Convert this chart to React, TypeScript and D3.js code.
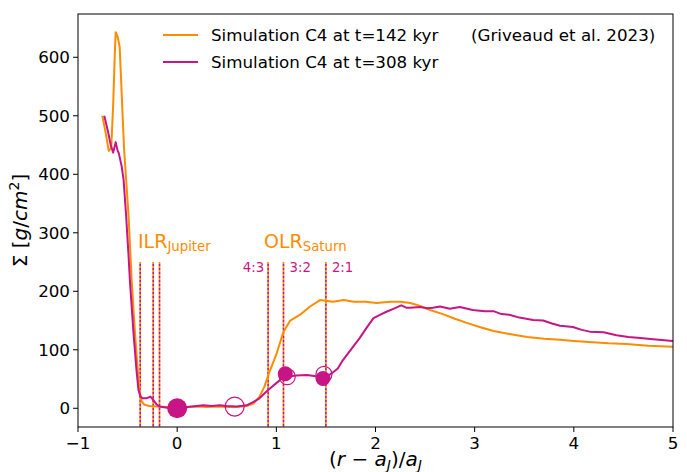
import React from "react";
import * as d3 from "d3";

const ORANGE = "#ff8c00";
const MAGENTA = "#c71585";

// Simulation C4 at t=142 kyr
const orangeX = [-0.755,-0.72,-0.69,-0.665,-0.645,-0.63,-0.62,-0.6,-0.58,-0.565,-0.55,-0.535,-0.51,-0.49,-0.457,-0.425,-0.4,-0.38,-0.36,-0.33,-0.28,-0.2,-0.1,0,0.1,0.2,0.3,0.4,0.5,0.6,0.7,0.77,0.83,0.88,0.93,1.0,1.07,1.14,1.24,1.34,1.44,1.5,1.57,1.68,1.78,1.9,2.01,2.15,2.25,2.35,2.45,2.55,2.68,2.8,2.92,3.05,3.19,3.35,3.53,3.7,3.86,4.0,4.19,4.35,4.53,4.75,5.0];
const orangeY = [500,470,440,445,520,600,643,635,618,560,500,442,380,328,214,128,71,31,12,6,4,3,2,1,2,3,2,3,2,2,4,8,20,37,62,92,130,150,160,174,185,184,182,185,182,182,180,182,182,180,175,168,161,153,146,139,132,127,122,119,117,115,113,111,110,107,105];

// Simulation C4 at t=308 kyr
const magentaX = [-0.735,-0.7,-0.67,-0.645,-0.62,-0.6,-0.59,-0.56,-0.54,-0.515,-0.49,-0.475,-0.44,-0.41,-0.39,-0.37,-0.35,-0.31,-0.27,-0.24,-0.21,-0.18,-0.1,0,0.1,0.2,0.26,0.35,0.43,0.5,0.6,0.7,0.77,0.83,0.89,0.95,1.0,1.05,1.1,1.2,1.31,1.38,1.44,1.5,1.56,1.62,1.67,1.75,1.84,1.92,1.98,2.05,2.11,2.18,2.26,2.31,2.35,2.45,2.52,2.58,2.65,2.75,2.85,2.98,3.1,3.19,3.27,3.35,3.45,3.59,3.69,3.78,3.86,3.99,4.08,4.16,4.3,4.43,4.55,4.67,4.8,5.0];
const magentaY = [500,475,450,437,455,440,437,414,390,330,260,214,128,65,31,20,17,17,20,14,7,3,1,0,2,4,5,4,5,4,3,5,11,17,27,36,43,50,54,56,57,55,53,53,60,68,82,100,120,140,154,160,165,170,176,172,172,173,171,172,174,170,173,168,166,166,161,160,155,151,150,145,141,139,134,131,130,125,122,120,118,115];

// resonance positions
const ilrX = [-0.373, -0.242, -0.178];
const olrX = [0.917, 1.072, 1.5];
const olrLabels = ["4:3", "3:2", "2:1"];

// planet markers
const filledX = [0, 1.09, 1.47];
const filledY = [0, 59, 51];
const filledR = [10, 7.5, 7.5];
const openX = [0.58, 1.11, 1.48];
const openY = [3, 54, 58];
const openR = [9.5, 8, 8];

const xTicks = [-1, 0, 1, 2, 3, 4, 5];
const yTicks = [0, 100, 200, 300, 400, 500, 600];

const W = 687, H = 472;
const L = 78, R = 673, T = 14, B = 427;
const FONT = "DejaVu Sans";

export default function App() {
  const x = d3.scaleLinear().domain([-1, 5]).range([L, R]);
  const y = d3.scaleLinear().domain([-32, 674]).range([B, T]);
  const line = d3.line<[number, number]>().x(d => x(d[0])).y(d => y(d[1]));
  const oData = orangeX.map((v, i) => [v, orangeY[i]] as [number, number]);
  const mData = magentaX.map((v, i) => [v, magentaY[i]] as [number, number]);
  const vlines = [...ilrX, ...olrX];

  return (
    <svg width={W} height={H} style={{ position: "absolute", left: 0, top: 0, background: "#fff" }} fontFamily={FONT}>
      <defs>
        <clipPath id="plotclip"><rect x={L} y={T} width={R - L} height={B - T} /></clipPath>
      </defs>
      <rect x={0} y={0} width={W} height={H} fill="#fff" />
      <g clipPath="url(#plotclip)">
        {vlines.map((v, i) => (
          <g key={i}>
            <line x1={x(v)} x2={x(v)} y1={y(250)} y2={B} stroke={ORANGE} strokeWidth={1.7} strokeDasharray="2 2" />
            <line x1={x(v)} x2={x(v)} y1={y(250)} y2={B} stroke={MAGENTA} strokeWidth={1.7} strokeDasharray="2 2" strokeDashoffset={2} />
          </g>
        ))}
        <path d={line(oData) || ""} fill="none" stroke={ORANGE} strokeWidth={2} strokeLinejoin="round" />
        <path d={line(mData) || ""} fill="none" stroke={MAGENTA} strokeWidth={2} strokeLinejoin="round" />
        {filledX.map((v, i) => (
          <circle key={"f" + i} cx={x(v)} cy={y(filledY[i])} r={filledR[i]} fill={MAGENTA} />
        ))}
        {openX.map((v, i) => (
          <circle key={"o" + i} cx={x(v)} cy={y(openY[i])} r={openR[i]} fill="none" stroke={MAGENTA} strokeWidth={1.2} />
        ))}
      </g>
      {/* annotations */}
      <text x={138} y={248} fill={ORANGE} fontSize={19}>ILR<tspan fontSize={13.3} dy={3}>Jupiter</tspan></text>
      <text x={264} y={248} fill={ORANGE} fontSize={19}>OLR<tspan fontSize={13.3} dy={3}>Saturn</tspan></text>
      {olrX.map((v, i) => (
        <text key={i} x={i === 0 ? x(v) - 4 : x(v) + 6} y={272} fill={MAGENTA} fontSize={13.3} textAnchor={i === 0 ? "end" : "start"}>{olrLabels[i]}</text>
      ))}
      {/* frame */}
      <rect x={L} y={T} width={R - L} height={B - T} fill="none" stroke="#000" strokeWidth={1} />
      {/* x axis */}
      {xTicks.map(t => (
        <g key={t}>
          <line x1={x(t)} x2={x(t)} y1={B} y2={B + 5} stroke="#000" />
          <text x={x(t)} y={B + 22} textAnchor="middle" fontSize={16.7}>{t < 0 ? "\u2212" + Math.abs(t) : t}</text>
        </g>
      ))}
      {yTicks.map(t => (
        <g key={t}>
          <line x1={L - 5} x2={L} y1={y(t)} y2={y(t)} stroke="#000" />
          <text x={L - 8} y={y(t) + 6} textAnchor="end" fontSize={16.7}>{t}</text>
        </g>
      ))}
      {/* axis labels */}
      <text x={(L + R) / 2} y={466} textAnchor="middle" fontSize={20}>
        (<tspan fontStyle="italic">r</tspan> − <tspan fontStyle="italic">a</tspan><tspan fontStyle="italic" fontSize={14} dy={4}>J</tspan><tspan dy={-4}>)/</tspan><tspan fontStyle="italic">a</tspan><tspan fontStyle="italic" fontSize={14} dy={4}>J</tspan>
      </text>
      <text transform={`translate(27, ${(T + B) / 2}) rotate(-90)`} textAnchor="middle" fontSize={20}>
        Σ [<tspan fontStyle="italic">g</tspan>/<tspan fontStyle="italic">cm</tspan><tspan fontSize={14} dy={-8}>2</tspan><tspan dy={8}>]</tspan>
      </text>
      {/* legend */}
      <line x1={163} x2={198} y1={35} y2={35} stroke={ORANGE} strokeWidth={2} />
      <text x={211} y={41} fontSize={16.7}>Simulation C4 at t=142 kyr</text>
      <text x={471} y={41} fontSize={16.7}>(Griveaud et al. 2023)</text>
      <line x1={163} x2={198} y1={62} y2={62} stroke={MAGENTA} strokeWidth={2} />
      <text x={211} y={68} fontSize={16.7}>Simulation C4 at t=308 kyr</text>
    </svg>
  );
}
